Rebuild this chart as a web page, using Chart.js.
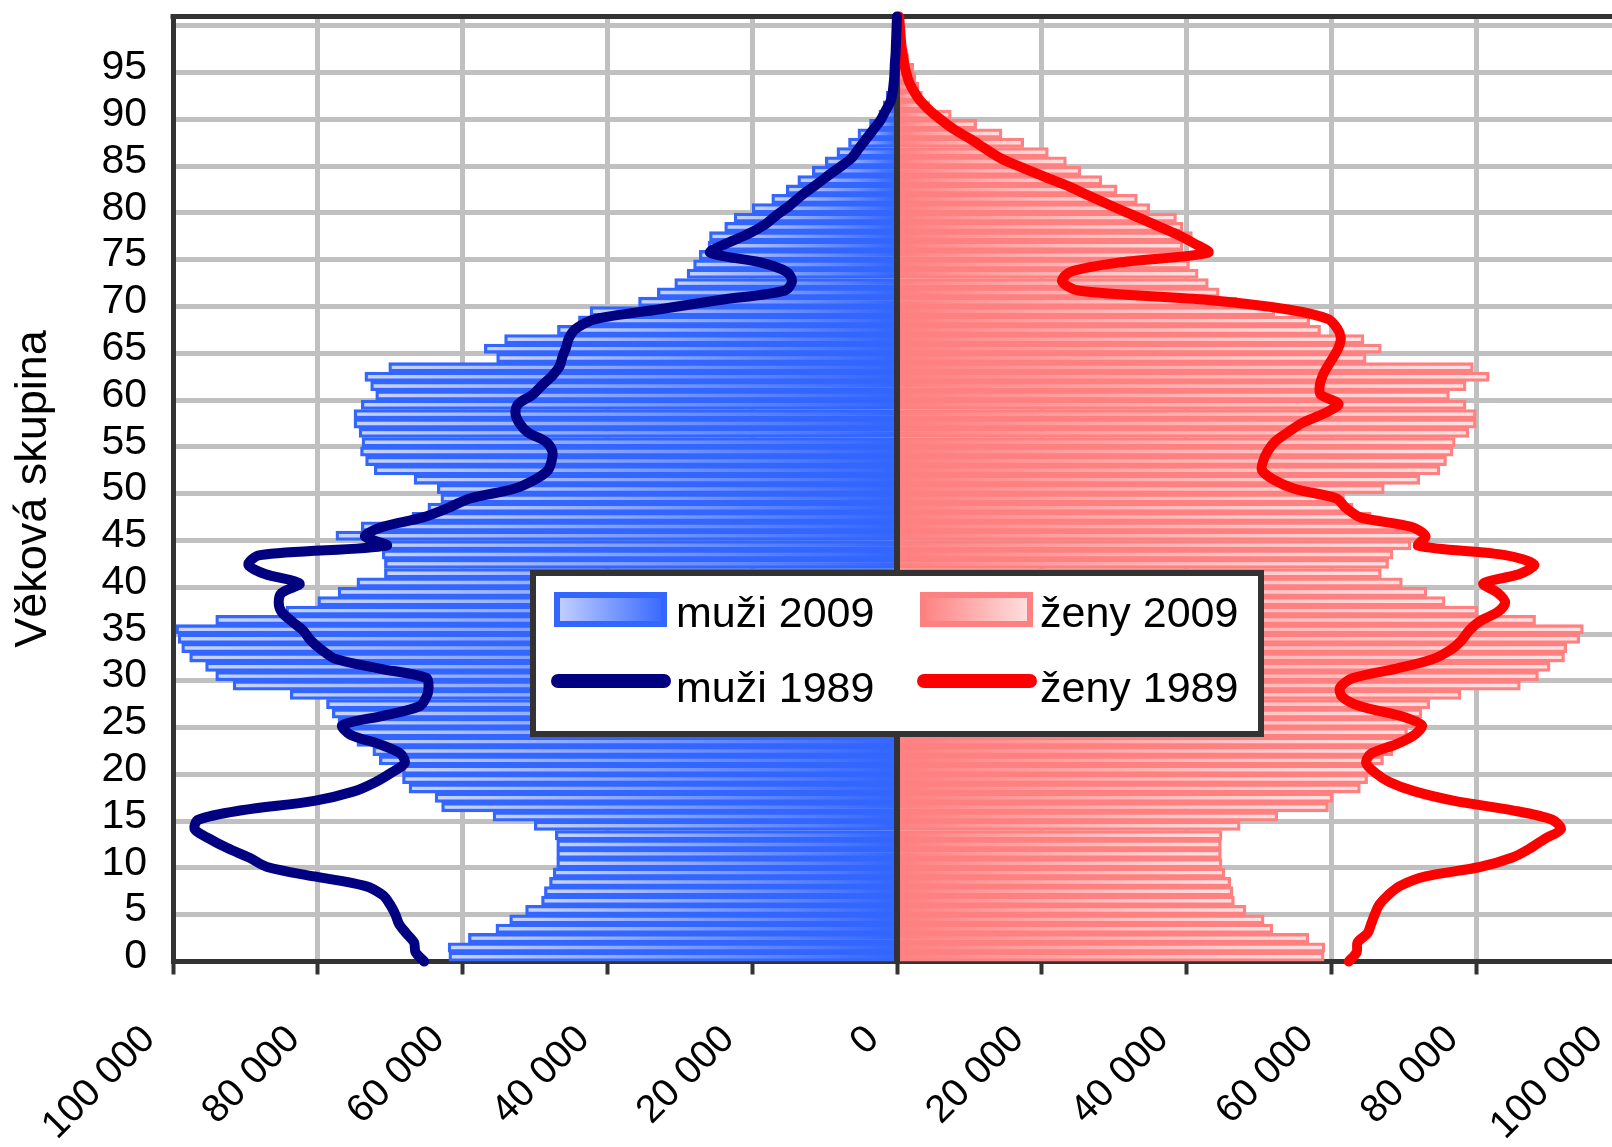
<!DOCTYPE html>
<html lang="cs">
<head>
<meta charset="utf-8">
<title>Věková struktura 1989 a 2009</title>
<script src="https://cdn.jsdelivr.net/npm/chart.js@4.4.1/dist/chart.umd.min.js"></script>
<style>
  html, body { margin: 0; padding: 0; background: #fff; overflow: hidden; }
  #wrap { width: 1640px; height: 1147px; }
</style>
</head>
<body>
<div id="wrap"><canvas id="pyramid" width="1640" height="1147"></canvas></div>
<script>
// age groups 0..100
const ages = [0, 1, 2, 3, 4, 5, 6, 7, 8, 9, 10, 11, 12, 13, 14, 15, 16, 17, 18, 19,
  20, 21, 22, 23, 24, 25, 26, 27, 28, 29, 30, 31, 32, 33, 34, 35, 36, 37, 38, 39,
  40, 41, 42, 43, 44, 45, 46, 47, 48, 49, 50, 51, 52, 53, 54, 55, 56, 57, 58, 59,
  60, 61, 62, 63, 64, 65, 66, 67, 68, 69, 70, 71, 72, 73, 74, 75, 76, 77, 78, 79,
  80, 81, 82, 83, 84, 85, 86, 87, 88, 89, 90, 91, 92, 93, 94, 95, 96, 97, 98, 99, 100];

// values in thousands of persons, index = age
const men2009 = [61.9, 62.0, 59.2, 55.4, 53.5, 51.3, 49.1, 48.7, 48.0, 47.5,
  47.0, 47.0, 47.0, 47.2, 50.1, 55.8, 62.9, 63.8, 67.4, 68.3,
  68.3, 71.5, 72.4, 74.6, 76.0, 77.2, 78.0, 78.8, 83.8, 91.7,
  94.1, 95.5, 97.7, 98.8, 99.3, 99.6, 94.1, 84.4, 80.0, 77.2,
  74.6, 70.8, 70.8, 71.1, 72.5, 77.5, 74.0, 67.0, 64.8, 63.0,
  63.5, 66.7, 72.2, 73.4, 74.1, 73.9, 74.3, 75.0, 75.0, 74.0,
  72.0, 72.7, 73.5, 70.2, 55.3, 57.0, 54.2, 46.9, 44.0, 42.4,
  35.7, 33.1, 30.7, 29.0, 28.1, 27.3, 26.1, 25.9, 23.8, 22.5,
  20.0, 17.3, 15.3, 13.7, 11.7, 9.9, 8.3, 6.7, 5.4, 3.8,
  2.5, 1.9, 1.5, 1.1, 0.8, 0.6, 0.45, 0.3, 0.2, 0.1, 0.05];

const women2009 = [59.0, 59.1, 56.9, 51.9, 50.7, 48.2, 46.6, 46.4, 46.1, 45.3,
  44.9, 44.8, 44.8, 44.9, 47.4, 52.6, 59.6, 60.2, 64.0, 65.0,
  65.4, 67.2, 68.5, 69.5, 70.5, 71.5, 72.5, 73.6, 77.9, 86.1,
  88.6, 90.2, 92.2, 92.5, 94.3, 94.8, 88.2, 80.2, 75.7, 73.2,
  69.8, 66.9, 67.9, 68.5, 71.0, 73.0, 71.0, 65.5, 63.0, 61.8,
  67.3, 72.2, 75.0, 75.9, 76.8, 77.1, 79.0, 80.0, 80.0, 78.6,
  76.3, 78.6, 81.8, 79.6, 64.8, 66.9, 64.5, 58.5, 57.0, 52.2,
  47.0, 44.5, 43.0, 41.6, 40.4, 39.5, 39.5, 40.8, 39.5, 38.6,
  34.9, 33.2, 30.4, 28.3, 25.4, 23.4, 20.9, 17.5, 14.5, 11.0,
  7.5, 4.5, 3.5, 3.0, 2.6, 2.3, 1.6, 1.2, 0.8, 0.5, 0.4];

const men1989 = [65.3, 66.5, 66.7, 67.8, 68.8, 69.3, 70.0, 71.0, 73.5, 80.5,
  87.0, 89.5, 92.5, 95.0, 97.0, 96.5, 90.5, 80.5, 75.0, 72.0,
  69.8, 68.0, 68.6, 71.5, 75.5, 76.6, 71.0, 66.0, 65.0, 64.7,
  65.0, 71.5, 77.5, 79.5, 81.0, 82.0, 83.6, 85.0, 85.4, 85.0,
  82.5, 87.3, 89.6, 88.0, 70.5, 73.5, 71.0, 65.5, 62.0, 59.0,
  53.0, 50.0, 48.2, 47.7, 47.6, 48.5, 51.0, 52.2, 52.7, 52.3,
  50.3, 49.0, 47.6, 46.6, 46.2, 45.7, 45.3, 44.3, 41.5, 33.0,
  24.5, 15.5, 14.5, 15.3, 19.0, 25.8, 23.5, 20.5, 18.2, 16.6,
  14.8, 13.3, 11.5, 9.8, 8.0, 6.3, 5.3, 4.3, 3.3, 2.3,
  1.6, 0.9, 0.6, 0.45, 0.35, 0.3, 0.2, 0.15, 0.1, 0.05, 0];

const women1989 = [62.4, 63.5, 63.6, 65.0, 65.5, 66.0, 66.6, 67.8, 69.5, 73.0,
  80.5, 85.0, 87.5, 89.5, 91.7, 90.5, 85.0, 77.0, 71.5, 68.0,
  66.0, 64.8, 65.5, 69.0, 71.5, 72.5, 69.5, 64.0, 61.5, 61.2,
  63.0, 69.0, 74.0, 76.5, 78.0, 79.0, 80.5, 83.0, 84.0, 83.0,
  81.0, 86.0, 88.0, 84.0, 72.0, 73.0, 71.0, 64.0, 62.0, 60.7,
  55.0, 52.0, 50.4, 50.6, 51.2, 52.2, 54.0, 56.0, 59.0, 61.0,
  58.5, 58.4, 58.8, 59.5, 60.3, 61.0, 61.3, 60.8, 59.5, 54.0,
  43.0, 25.0, 22.8, 24.0, 31.0, 43.0, 41.0, 38.5, 35.5, 32.5,
  29.5, 26.6, 23.8, 20.5, 17.3, 14.3, 12.2, 10.2, 8.0, 6.2,
  4.6, 3.3, 2.4, 1.7, 1.3, 1.0, 0.8, 0.6, 0.5, 0.4, 0.3];

const seriesLabels = ['muži 2009', 'ženy 2009', 'muži 1989', 'ženy 1989'];
const axisTitle = 'Věková skupina';
const yLabelTicks = [0, 5, 10, 15, 20, 25, 30, 35, 40, 45, 50, 55, 60, 65, 70, 75, 80, 85, 90, 95];
const yGridTicks = [4.5, 9.5, 14.5, 19.5, 24.5, 29.5, 34.5, 39.5, 44.5, 49.5,
  54.5, 59.5, 64.5, 69.5, 74.5, 79.5, 84.5, 89.5, 94.5, 99.5];
const xTicks = [-100000, -80000, -60000, -40000, -20000, 0, 20000, 40000, 60000, 80000, 100000];

const FONT = "'Liberation Sans', Arial, sans-serif";
const BLUE = '#3366ff', BLUE_LIGHT = '#c8d4ff';
const PINK = '#ff8080', PINK_LIGHT = '#ffe2e2';
const NAVY = '#000080', RED = '#ff0000';
const DARK = '#333333', GRID = '#c0c0c0';

function fmt(v) {
  return String(Math.abs(v)).replace(/\B(?=(\d{3})+(?!\d))/g, ' ');
}

function points(values, sign) {
  return ages.map((a, i) => ({ x: sign * values[i] * 1000, y: a }));
}

function noPadding(s) {
  s.paddingLeft = 0; s.paddingRight = 0; s.paddingTop = 0; s.paddingBottom = 0;
}

// gradient along each bar: saturated at the centre, light at the outer end
function barGradient(inner, outer) {
  return (ctx) => {
    const chart = ctx.chart;
    if (!chart.chartArea || ctx.type !== 'data') return inner;
    const xs = chart.scales.x;
    const x0 = xs.getPixelForValue(0);
    const x1 = xs.getPixelForValue(ctx.raw.x);
    if (Math.abs(x1 - x0) < 1) return inner;
    const g = chart.ctx.createLinearGradient(x0, 0, x1, 0);
    g.addColorStop(0, inner);
    g.addColorStop(1, outer);
    return g;
  };
}

let centerDone = false;
const framePlugin = {
  id: 'frame',
  beforeDraw() { centerDone = false; },
  beforeDatasetsDraw(chart) {
    const { ctx, chartArea } = chart;
    ctx.save();
    ctx.strokeStyle = DARK;
    ctx.lineWidth = 5;
    ctx.beginPath();
    ctx.moveTo(chartArea.left - 2.5, chartArea.top);
    ctx.lineTo(chartArea.right, chartArea.top);
    ctx.stroke();
    ctx.restore();
  },
  beforeDatasetDraw(chart, args) {
    if (args.meta.type !== 'line' || centerDone) return;
    centerDone = true;
    const { ctx, chartArea } = chart;
    const x0 = chart.scales.x.getPixelForValue(0);
    ctx.save();
    ctx.strokeStyle = DARK;
    ctx.lineWidth = 6;
    ctx.beginPath();
    ctx.moveTo(x0, chartArea.top);
    ctx.lineTo(x0, chartArea.bottom);
    ctx.stroke();
    ctx.restore();
  },
  afterDraw(chart) {
    const c = chart.ctx;
    const ds = chart.data.datasets;
    c.save();
    c.fillStyle = '#fff';
    c.fillRect(530, 570, 734, 167);
    c.strokeStyle = DARK;
    c.lineWidth = 6;
    c.strokeRect(533, 573, 728, 161);

    const swatchX = [554, 920];
    const textX = [676, 1040];
    const rowTop = [592, 674];
    const rowBase = [627, 702];
    c.font = '43px ' + FONT;
    c.textBaseline = 'alphabetic';
    ds.forEach((d, i) => {
      const col = i % 2, row = i < 2 ? 0 : 1;
      const sx = swatchX[col];
      if (d.type === 'bar') {
        const g = c.createLinearGradient(sx, 0, sx + 113, 0);
        if (col === 0) { g.addColorStop(0, BLUE_LIGHT); g.addColorStop(1, BLUE); }
        else { g.addColorStop(0, PINK); g.addColorStop(1, PINK_LIGHT); }
        c.fillStyle = g;
        c.fillRect(sx, rowTop[row], 113, 35);
        c.strokeStyle = d.borderColor;
        c.lineWidth = 6;
        c.strokeRect(sx + 3, rowTop[row] + 3, 107, 29);
      } else {
        c.strokeStyle = d.borderColor;
        c.lineWidth = 14;
        c.lineCap = 'round';
        c.beginPath();
        c.moveTo(sx + 4, rowTop[row] + 7);
        c.lineTo(sx + 110, rowTop[row] + 7);
        c.stroke();
      }
      c.fillStyle = '#000';
      c.fillText(d.label, textX[col], rowBase[row]);
    });
    c.restore();
  }
};

new Chart(document.getElementById('pyramid'), {
  type: 'bar',
  data: {
    datasets: [
      {
        type: 'bar', label: seriesLabels[0], data: points(men2009, -1), yAxisID: 'y',
        backgroundColor: barGradient(BLUE, BLUE_LIGHT), borderColor: BLUE,
        borderWidth: 3.3, borderSkipped: 'start', order: 1
      },
      {
        type: 'bar', label: seriesLabels[1], data: points(women2009, 1), yAxisID: 'y',
        backgroundColor: barGradient(PINK, PINK_LIGHT), borderColor: PINK,
        borderWidth: 3.3, borderSkipped: 'start', order: 1
      },
      {
        type: 'line', label: seriesLabels[2], data: points(men1989, -1), yAxisID: 'yl',
        borderColor: NAVY, borderWidth: 10, pointRadius: 0, tension: 0.3,
        borderJoinStyle: 'round', borderCapStyle: 'round', clip: false, order: 0
      },
      {
        type: 'line', label: seriesLabels[3], data: points(women1989, 1), yAxisID: 'yl',
        borderColor: RED, borderWidth: 10, pointRadius: 0, tension: 0.3,
        borderJoinStyle: 'round', borderCapStyle: 'round', clip: false, order: 0
      }
    ]
  },
  options: {
    indexAxis: 'y',
    responsive: false,
    animation: false,
    devicePixelRatio: 1,
    layout: { padding: { top: 16.5, right: 19, bottom: 0, left: 0 } },
    datasets: { bar: { grouped: false, barPercentage: 1, categoryPercentage: 1 } },
    plugins: { legend: { display: false }, tooltip: { enabled: false } },
    scales: {
      x: {
        type: 'linear', min: -100000, max: 100000, position: 'bottom', offset: false,
        afterBuildTicks: (s) => { s.ticks = xTicks.map(v => ({ value: v })); },
        afterFit: (s) => { s.height = 185.5; noPadding(s); },
        ticks: {
          callback: (v) => fmt(v), autoSkip: false, minRotation: 45, maxRotation: 45,
          padding: 42, labelOffset: -24, color: '#000', font: { family: FONT, size: 39 }
        },
        grid: {
          offset: false,
          color: (c) => (c.tick && (c.tick.value === 0 || c.tick.value === -100000)) ? DARK : GRID,
          lineWidth: 5, tickLength: 13, tickColor: DARK, tickWidth: 4
        },
        border: { display: true, color: DARK, width: 5 }
      },
      y: {
        type: 'linear', min: -0.5, max: 100.5, position: 'left', offset: false,
        afterBuildTicks: (s) => { s.ticks = yLabelTicks.map(v => ({ value: v })); },
        afterFit: (s) => { s.width = 173; noPadding(s); },
        ticks: {
          callback: (v) => String(v),
          autoSkip: false, padding: 26, color: '#000', font: { family: FONT, size: 41 }
        },
        grid: { display: false, offset: false, drawTicks: false },
        border: { display: true, color: DARK, width: 5 },
        title: {
          display: true, text: axisTitle, color: '#000',
          font: { family: FONT, size: 45 }, padding: { top: 7, bottom: 0 }
        }
      },
      yg: {
        type: 'linear', axis: 'y', min: -0.5, max: 100.5, position: 'left', offset: false,
        afterBuildTicks: (s) => { s.ticks = yGridTicks.map(v => ({ value: v })); },
        afterFit: (s) => { s.width = 0; noPadding(s); },
        ticks: { display: false },
        grid: { offset: false, color: GRID, lineWidth: 5, drawTicks: false },
        border: { display: false }
      },
      yl: {
        type: 'linear', axis: 'y', min: 0, max: 100, position: 'left', offset: false,
        display: false, afterFit: noPadding
      }
    }
  },
  plugins: [framePlugin]
});
</script>
</body>
</html>
